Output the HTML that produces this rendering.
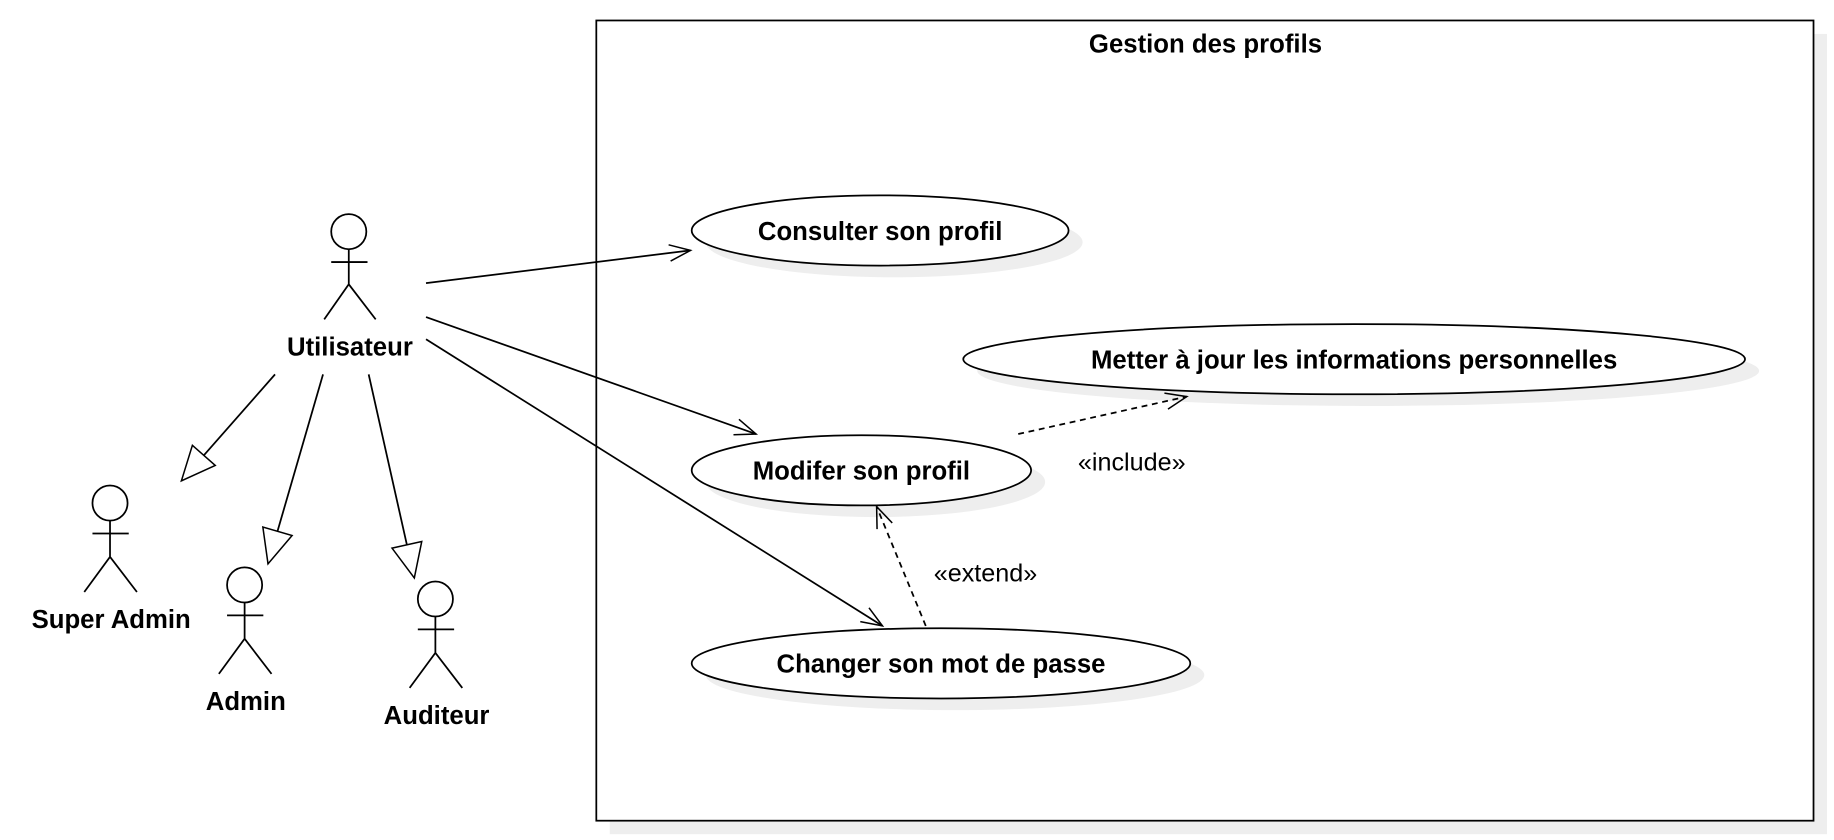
<!DOCTYPE html>
<html><head><meta charset="utf-8"><style>html,body{margin:0;padding:0;background:#fff}svg{display:block}</style></head><body>
<svg width="1834" height="840" viewBox="0 0 1567 718" preserveAspectRatio="none" xmlns="http://www.w3.org/2000/svg" font-family="Liberation Sans, sans-serif">
<defs>
<marker id="tri" markerUnits="userSpaceOnUse" markerWidth="40" markerHeight="40" refX="30" refY="14" orient="auto"><path d="M1,1 L30,14 L1,27 Z" fill="#fff" stroke="#000" stroke-width="1.3"/></marker>
<marker id="open" markerUnits="userSpaceOnUse" markerWidth="24" markerHeight="24" refX="19" refY="8" orient="auto"><path d="M1,1 L19,8 L1,15" fill="none" stroke="#000" stroke-width="1.3"/></marker>
</defs>
<rect x="521" y="29" width="1040" height="684" fill="#eee"/>
<rect x="509.5" y="17.5" width="1040" height="684" fill="#fff" stroke="#000" stroke-width="1.5"/>
<text x="1030" y="45" font-size="22" font-weight="bold" text-anchor="middle">Gestion des profils</text>
<g fill="#eee">
<ellipse cx="764" cy="207" rx="161" ry="30"/><ellipse cx="1169" cy="317" rx="334" ry="30"/><ellipse cx="748" cy="412" rx="145" ry="30"/><ellipse cx="816" cy="577" rx="213" ry="30"/>
</g>
<g fill="#fff" stroke="#000" stroke-width="1.5">
<ellipse cx="752" cy="197" rx="161" ry="30"/><ellipse cx="1157" cy="307" rx="334" ry="30"/><ellipse cx="736" cy="402" rx="145" ry="30"/><ellipse cx="804" cy="567" rx="213" ry="30"/>
</g>
<g font-size="22" font-weight="bold" text-anchor="middle">
<text x="752" y="205">Consulter son profil</text>
<text x="1157" y="315">Metter à jour les informations personnelles</text>
<text x="736" y="410">Modifer son profil</text>
<text x="804" y="575">Changer son mot de passe</text>
</g>
<g fill="none" stroke="#000" stroke-width="1.5">
<circle cx="298" cy="198" r="15"/><path d="M298,213V243M283,224H314M277,273L298,243L321,273"/>
<circle cx="94" cy="430" r="15"/><path d="M94,445V476M79,456H110M72,506L94,476L117,506"/>
<circle cx="209" cy="500" r="15"/><path d="M209,515V546M194,526H225M187,576L209,546L232,576"/>
<circle cx="372" cy="512" r="15"/><path d="M372,527V558M357,538H388M350,588L372,558L395,588"/>
<path d="M235,320L155,411" marker-end="url(#tri)"/>
<path d="M276,320L229,482" marker-end="url(#tri)"/>
<path d="M315,320L354,494" marker-end="url(#tri)"/>
<path d="M364,242L590,214" marker-end="url(#open)"/>
<path d="M364,271L646,371" marker-end="url(#open)"/>
<path d="M364,290L754,535" marker-end="url(#open)"/>
<path d="M870,371L1014,339" stroke-dasharray="5,4" marker-end="url(#open)"/>
<path d="M791,535L749,433" stroke-dasharray="5,4" marker-end="url(#open)"/>
</g>
<g font-size="22" font-weight="bold" text-anchor="middle">
<text x="299" y="304">Utilisateur</text>
<text x="95" y="537">Super Admin</text>
<text x="210" y="607">Admin</text>
<text x="373" y="619">Auditeur</text>
</g>
<g font-size="21.5" text-anchor="middle">
<text x="967" y="402">«include»</text>
<text x="842" y="497">«extend»</text>
</g>
</svg>
</body></html>
